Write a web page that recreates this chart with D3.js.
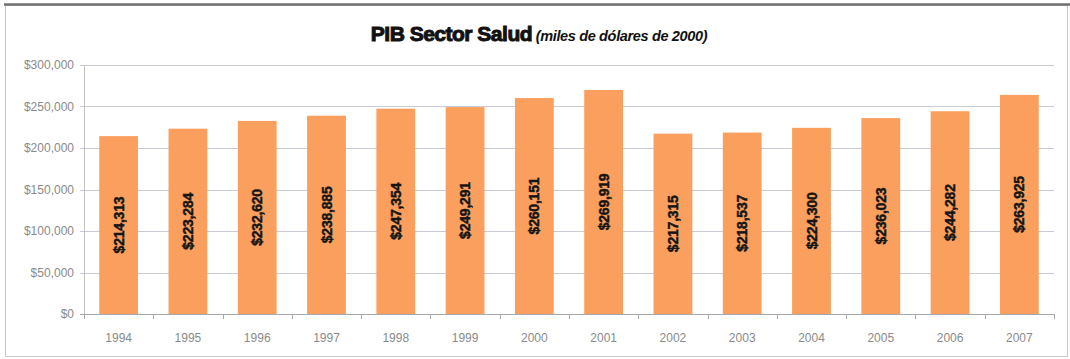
<!DOCTYPE html>
<html>
<head>
<meta charset="utf-8">
<script src="https://cdn.jsdelivr.net/npm/d3@7"></script>
<style>
  html, body { margin: 0; padding: 0; background: #fff; }
  svg { display: block; }
</style>
</head>
<body>
<svg id="chart" width="1070" height="359"></svg>
<script>
// PIB del sector salud, miles de dólares de 2000
const years = ["1994","1995","1996","1997","1998","1999","2000","2001","2002","2003","2004","2005","2006","2007"];
const values = [214313, 223284, 232620, 238885, 247354, 249291, 260151, 269919, 217315, 218537, 224300, 236023, 244282, 263925];
const yTicks = [0, 50000, 100000, 150000, 200000, 250000, 300000];

const svg = d3.select("#chart");
const W = 1070, H = 359;
const margin = { left: 84, right: 16, top: 65, bottom: 45 };
const plotW = W - margin.left - margin.right;
const plotH = H - margin.top - margin.bottom;

// frame
svg.append("rect").attr("x", 5.5).attr("y", 5.5).attr("width", 1062).attr("height", 351)
  .attr("fill", "#fff").attr("stroke", "#c8c8c8").attr("stroke-width", 1);
svg.append("line").attr("x1", 4).attr("x2", 1070).attr("y1", 4.5).attr("y2", 4.5)
  .attr("stroke", "#707070").attr("stroke-width", 2.5);

// title
const title = svg.append("text").attr("x", 539).attr("y", 41).attr("text-anchor", "middle")
  .attr("font-family", "Liberation Sans, Arial, sans-serif").attr("fill", "#111");
title.append("tspan").text("PIB Sector Salud")
  .attr("font-size", 21).attr("font-weight", "bold").attr("letter-spacing", "-0.5")
  .attr("stroke", "#111").attr("stroke-width", 1);
title.append("tspan").text(" (miles de dólares de 2000)")
  .attr("font-size", 14.5).attr("font-style", "italic").attr("font-weight", "bold")
  .attr("letter-spacing", "-0.35");

const g = svg.append("g").attr("transform", `translate(${margin.left},${margin.top})`);

const x = d3.scaleBand().domain(years).range([0, plotW]).paddingInner(0.44).paddingOuter(0.22);
const y = d3.scaleLinear().domain([0, 300000]).range([plotH, 0]);

// gridlines
g.append("g").selectAll("line").data(yTicks).join("line")
  .attr("x1", -4).attr("x2", plotW)
  .attr("y1", d => Math.round(y(d)) + 0.5).attr("y2", d => Math.round(y(d)) + 0.5)
  .attr("stroke", d => d === 0 ? "#a8a8b0" : "#c9cad6").attr("stroke-width", 1);

// y axis
const yAxis = g.append("g").call(d3.axisLeft(y).tickValues(yTicks).tickSize(0).tickPadding(10)
  .tickFormat(d => "$" + d3.format(",")(d)));
yAxis.select(".domain").attr("stroke", "#c0c0c8");
yAxis.selectAll("text").attr("font-family", "Liberation Sans, Arial, sans-serif")
  .attr("font-size", 12).attr("fill", "#8a8a8a");

// bars
g.append("g").selectAll("rect").data(values).join("rect")
  .attr("x", (d, i) => x(years[i]))
  .attr("width", x.bandwidth())
  .attr("y", d => y(d))
  .attr("height", d => plotH - y(d))
  .attr("fill", "#fa9f5d");

// value labels inside the bars
g.append("g").selectAll("text").data(values).join("text")
  .attr("transform", (d, i) => `translate(${x(years[i]) + x.bandwidth() / 2 + 5},${(y(d) + plotH) / 2}) rotate(-90)`)
  .attr("text-anchor", "middle")
  .attr("font-family", "Liberation Sans, Arial, sans-serif")
  .attr("font-size", 14).attr("font-weight", "bold").attr("fill", "#151515")
  .attr("stroke", "#151515").attr("stroke-width", 0.45)
  .attr("letter-spacing", "-0.2")
  .text(d => "$" + d3.format(",")(d));

// x axis with ticks between categories
const xg = g.append("g").attr("transform", `translate(0,${plotH})`);
xg.append("line").attr("x1", 0).attr("x2", plotW).attr("y1", 0.5).attr("y2", 0.5).attr("stroke", "#a8a8b0");
xg.selectAll("line.tk").data(d3.range(years.length + 1)).join("line").attr("class", "tk")
  .attr("x1", i => Math.round(i * plotW / years.length) + 0.5)
  .attr("x2", i => Math.round(i * plotW / years.length) + 0.5)
  .attr("y1", 0).attr("y2", 5).attr("stroke", "#a8a8b0");
xg.selectAll("text").data(years).join("text")
  .attr("x", d => x(d) + x.bandwidth() / 2)
  .attr("y", 28)
  .attr("text-anchor", "middle")
  .attr("font-family", "Liberation Sans, Arial, sans-serif")
  .attr("font-size", 12).attr("fill", "#8a8a8a")
  .text(d => d);
</script>
</body>
</html>
